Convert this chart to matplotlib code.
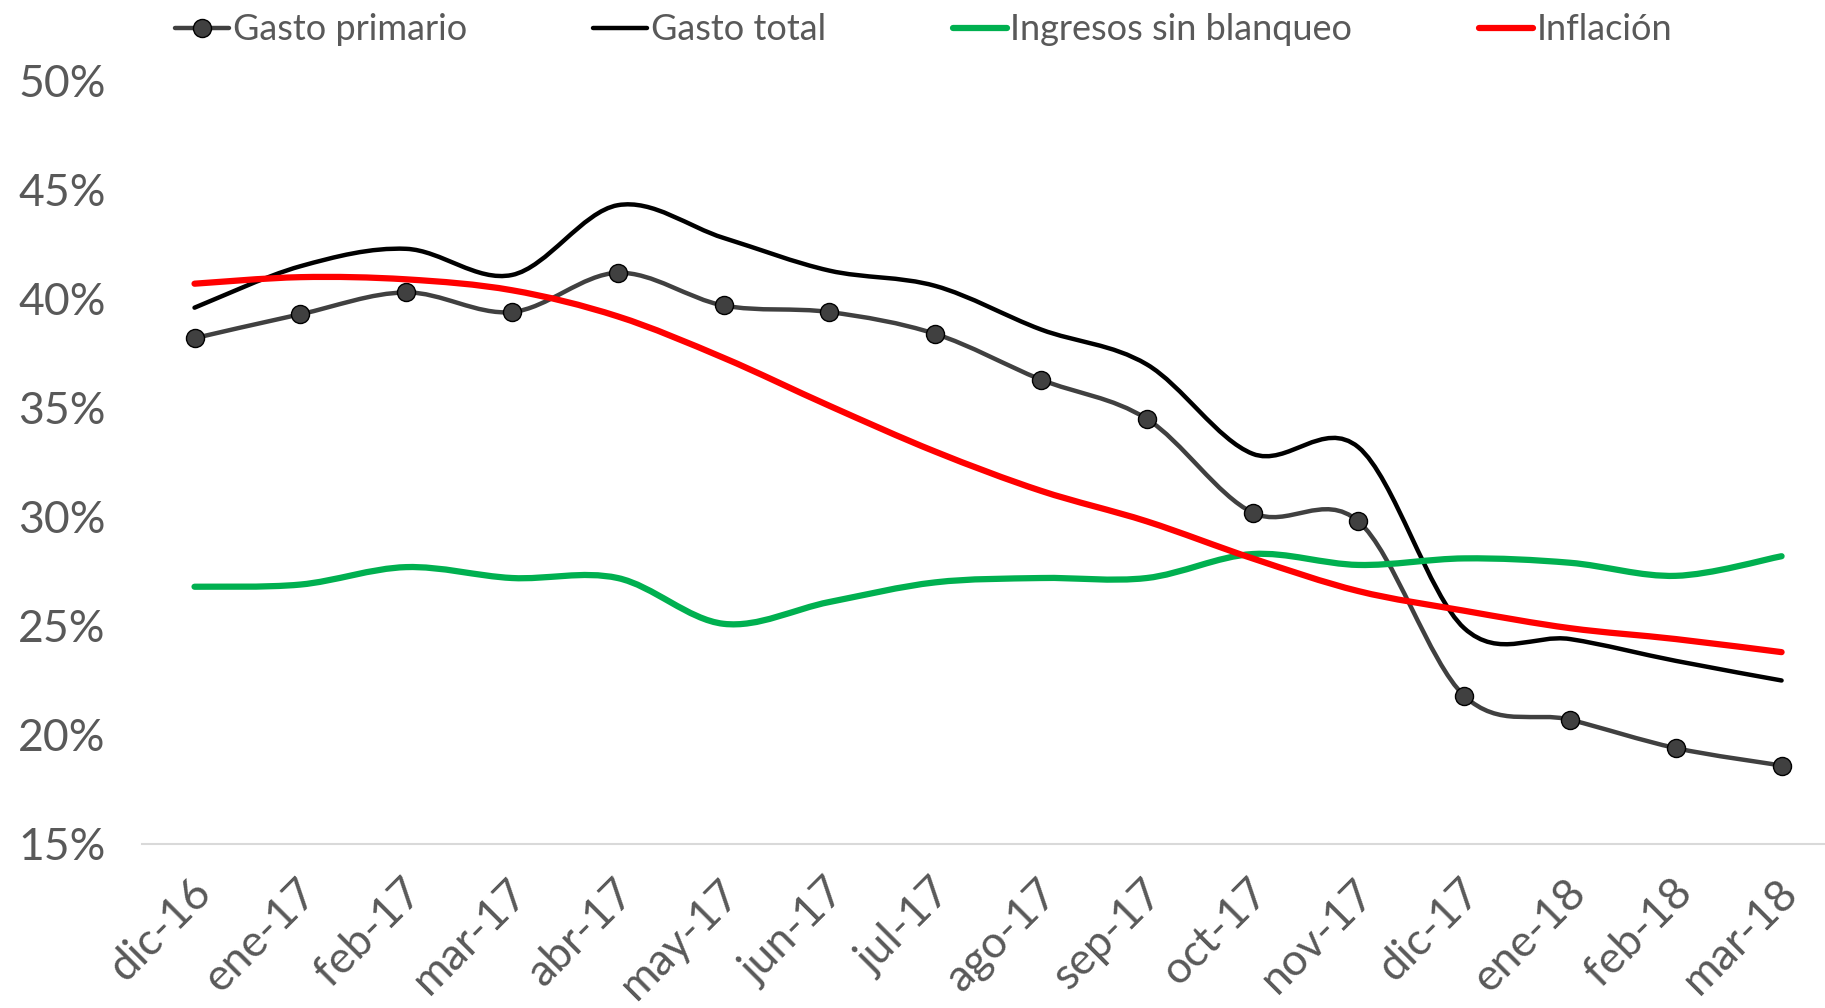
import numpy as np
import matplotlib
matplotlib.use("Agg")
import matplotlib.pyplot as plt
from matplotlib.path import Path
from matplotlib.patches import PathPatch
from matplotlib.lines import Line2D
from matplotlib.ticker import FuncFormatter
from matplotlib.transforms import ScaledTranslation

plt.rcParams['font.family'] = ['Lato', 'DejaVu Sans']

categories = ["dic-16", "ene-17", "feb-17", "mar-17", "abr-17", "may-17", "jun-17", "jul-17",
              "ago-17", "sep-17", "oct-17", "nov-17", "dic-17", "ene-18", "feb-18", "mar-18"]
gasto_primario = [38.2, 39.3, 40.3, 39.4, 41.2, 39.7, 39.4, 38.4, 36.3, 34.5, 30.2, 29.8, 21.8, 20.7, 19.4, 18.6]
gasto_total = [39.6, 41.5, 42.3, 41.1, 44.3, 42.8, 41.3, 40.6, 38.6, 37.0, 32.9, 33.2, 24.9, 24.4, 23.4, 22.5]
ingresos = [26.8, 26.9, 27.7, 27.2, 27.2, 25.1, 26.1, 27.0, 27.2, 27.2, 28.3, 27.8, 28.1, 27.9, 27.3, 28.2]
inflacion = [40.7, 41.0, 40.9, 40.4, 39.2, 37.3, 35.1, 33.0, 31.2, 29.8, 28.1, 26.6, 25.7, 24.9, 24.4, 23.8]

names = ["Gasto primario", "Gasto total", "Ingresos sin blanqueo", "Inflación"]
colors = ["#404040", "#000000", "#00B050", "#FF0000"]
widths = [3.2, 3.2, 4.5, 4.5]

fig = plt.figure(figsize=(18.25, 10.08), dpi=100)
ax = fig.add_axes([0.0776, 0.1627, 0.9276, 0.757])

def smooth_path(xs, ys):
    pts = np.column_stack([xs, ys]).astype(float)
    n = len(pts)
    verts = [pts[0]]
    codes = [Path.MOVETO]
    for i in range(n - 1):
        p0 = pts[i - 1] if i > 0 else pts[i]
        p1 = pts[i]
        p2 = pts[i + 1]
        p3 = pts[i + 2] if i + 2 < n else pts[i + 1]
        c1 = p1 + (p2 - p0) / 6.0
        c2 = p2 - (p3 - p1) / 6.0
        verts += [c1, c2, p2]
        codes += [Path.CURVE4] * 3
    return Path(verts, codes)

x = np.arange(len(categories))
series = [gasto_primario, gasto_total, ingresos, inflacion]
for k, (vals, c, w) in enumerate(zip(series, colors, widths)):
    p = smooth_path(x, vals)
    ax.add_patch(PathPatch(p, facecolor='none', edgecolor=c, lw=w,
                           capstyle='round', joinstyle='round', zorder=2 + k))
ax.plot(x, gasto_primario, linestyle='none', marker='o', markersize=13,
        markerfacecolor='#404040', markeredgecolor='#000000', markeredgewidth=1.0, zorder=3)

ax.set_xlim(-0.5, len(categories) - 0.5)
ax.set_ylim(15, 50)
ax.set_yticks(np.arange(15, 51, 5))
ax.yaxis.set_major_formatter(FuncFormatter(lambda v, p: f"{v:.0f}%"))
ax.set_xticks(x)
ax.set_xticklabels(categories, rotation=45, ha='right', rotation_mode='anchor')
for s in ['top', 'right', 'left']:
    ax.spines[s].set_visible(False)
ax.spines['bottom'].set_color('#D9D9D9')
ax.spines['bottom'].set_linewidth(1.5)
ax.tick_params(axis='both', length=0, labelsize=32, colors='#595959')
ax.tick_params(axis='x', pad=20)
ax.tick_params(axis='y', pad=26)
off = ScaledTranslation(-5 / 100, 0, fig.dpi_scale_trans)
for lab in ax.get_xticklabels():
    lab.set_transform(lab.get_transform() + off)

handles = [
    Line2D([], [], color=colors[0], lw=widths[0], marker='o', markersize=13,
           markerfacecolor='#404040', markeredgecolor='#000000', solid_capstyle='round'),
    Line2D([], [], color=colors[1], lw=widths[1], solid_capstyle='round'),
    Line2D([], [], color=colors[2], lw=widths[2], solid_capstyle='round'),
    Line2D([], [], color=colors[3], lw=widths[3], solid_capstyle='round'),
]
leg = fig.legend(handles, names, loc='upper center', bbox_to_anchor=(0.506, 1.019), ncol=4,
                 frameon=False, fontsize=26, handlelength=1.5, handletextpad=0.1,
                 columnspacing=3.5, labelcolor='#595959')

fig.savefig("out.png", dpi=100, facecolor='white')
